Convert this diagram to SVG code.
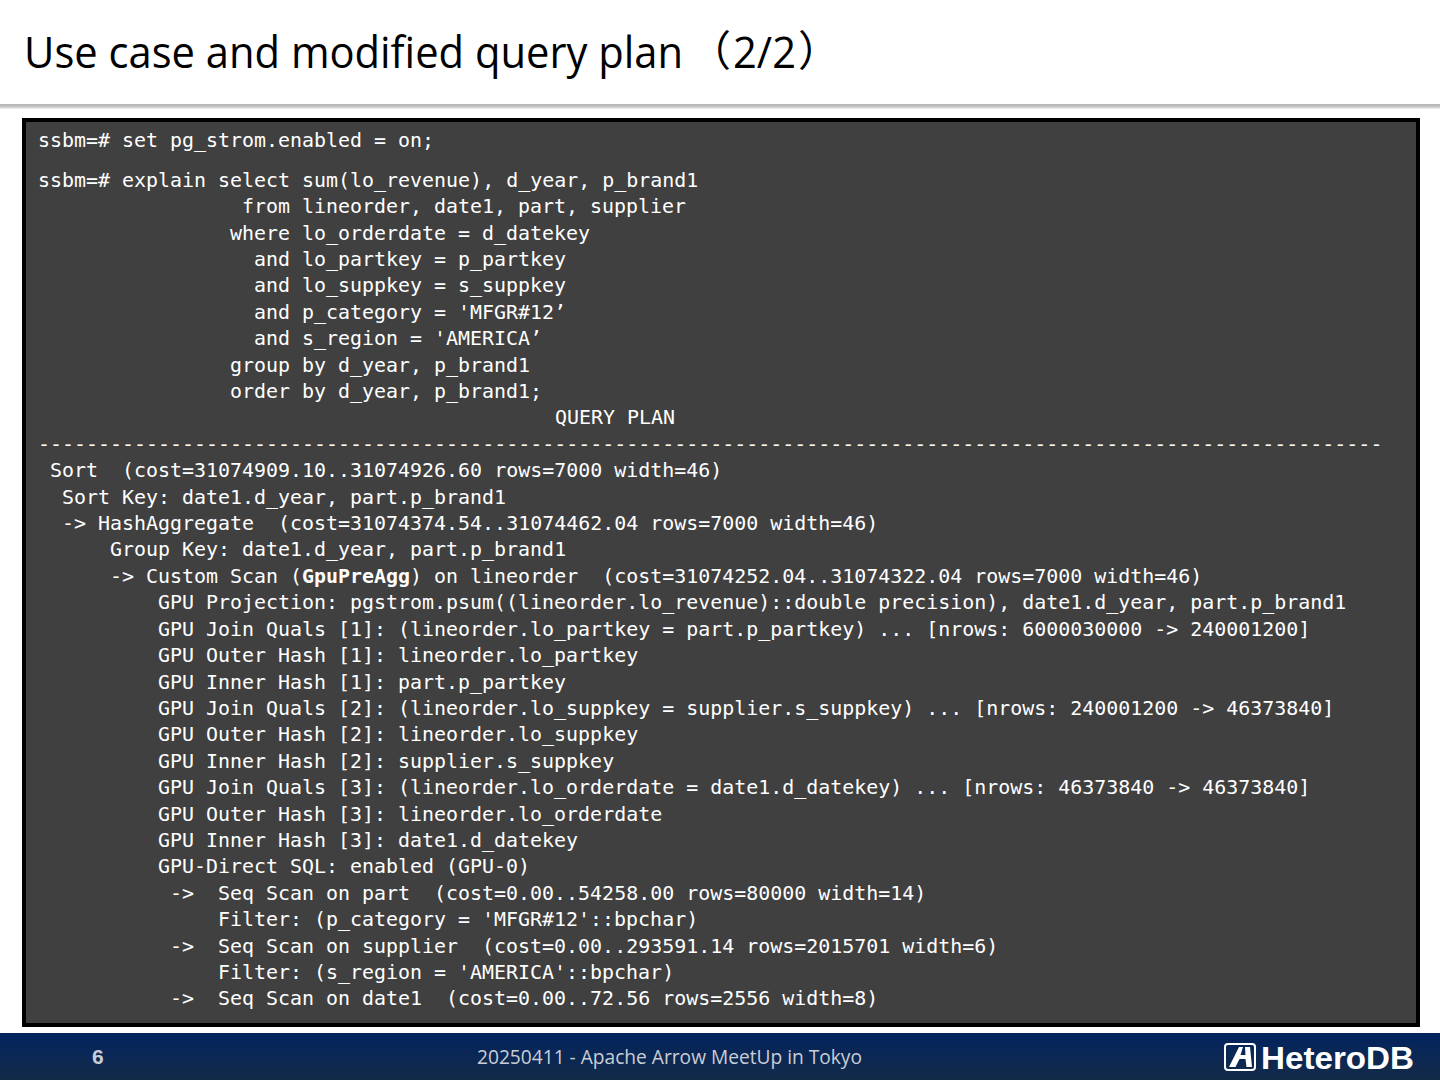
<svg xmlns="http://www.w3.org/2000/svg" width="1440" height="1080" viewBox="0 0 1440 1080">
<defs>
<linearGradient id="foot" x1="0" y1="0" x2="0" y2="1"><stop offset="0" stop-color="#02235f"/><stop offset="1" stop-color="#142b47"/></linearGradient>
<linearGradient id="rule" x1="0" y1="0" x2="0" y2="1"><stop offset="0" stop-color="#b4b4b4"/><stop offset="0.5" stop-color="#c4c4c4"/><stop offset="1" stop-color="#f4f4f4"/></linearGradient>
</defs>
<style>
text{white-space:pre}
.c{font-family:"DejaVu Sans Mono","Liberation Mono",monospace;font-size:19.96px;fill:#fff}
.t{font-family:"Open Sans","Noto Sans",sans-serif;font-size:44px;fill:#000}
.p{font-family:"Noto Sans CJK JP","Noto Sans",sans-serif;font-size:42px;fill:#000}
.f{font-family:"Open Sans","Noto Sans",sans-serif;font-size:20px;fill:#c8ced6}
</style>
<rect width="1440" height="1080" fill="#fff"/>
<rect id="header-rule" x="0" y="104" width="1440" height="5" fill="url(#rule)"/>
<text id="title" class="t" transform="translate(24 68) scale(0.948 1)">Use case and modified query plan</text>
<text class="p" x="689" y="66">（</text>
<text class="t" transform="translate(733 68) scale(0.948 1)">2/2</text>
<text class="p" x="798" y="66">）</text>
<g id="console">
<rect x="24" y="120" width="1394" height="905" fill="#404040" stroke="#000" stroke-width="4"/>
<text class="c" x="38" y="147">ssbm=# set pg_strom.enabled = on;</text>
<text class="c" x="38" y="187">ssbm=# explain select sum(lo_revenue), d_year, p_brand1</text>
<text class="c" x="242" y="213">from lineorder, date1, part, supplier</text>
<text class="c" x="230" y="240">where lo_orderdate = d_datekey</text>
<text class="c" x="254" y="266">and lo_partkey = p_partkey</text>
<text class="c" x="254" y="292">and lo_suppkey = s_suppkey</text>
<text class="c" x="254" y="319">and p_category = 'MFGR#12’</text>
<text class="c" x="254" y="345">and s_region = 'AMERICA’</text>
<text class="c" x="230" y="372">group by d_year, p_brand1</text>
<text class="c" x="230" y="398">order by d_year, p_brand1;</text>
<text class="c" x="555" y="424">QUERY PLAN</text>
<text class="c" x="38" y="451">----------------------------------------------------------------------------------------------------------------</text>
<text class="c" x="50" y="477">Sort  (cost=31074909.10..31074926.60 rows=7000 width=46)</text>
<text class="c" x="62" y="504">Sort Key: date1.d_year, part.p_brand1</text>
<text class="c" x="62" y="530">-> HashAggregate  (cost=31074374.54..31074462.04 rows=7000 width=46)</text>
<text class="c" x="110" y="556">Group Key: date1.d_year, part.p_brand1</text>
<text class="c" x="110" y="583">-> Custom Scan (<tspan font-weight="700">GpuPreAgg</tspan>) on lineorder  (cost=31074252.04..31074322.04 rows=7000 width=46)</text>
<text class="c" x="158" y="609">GPU Projection: pgstrom.psum((lineorder.lo_revenue)::double precision), date1.d_year, part.p_brand1</text>
<text class="c" x="158" y="636">GPU Join Quals [1]: (lineorder.lo_partkey = part.p_partkey) ... [nrows: 6000030000 -> 240001200]</text>
<text class="c" x="158" y="662">GPU Outer Hash [1]: lineorder.lo_partkey</text>
<text class="c" x="158" y="689">GPU Inner Hash [1]: part.p_partkey</text>
<text class="c" x="158" y="715">GPU Join Quals [2]: (lineorder.lo_suppkey = supplier.s_suppkey) ... [nrows: 240001200 -> 46373840]</text>
<text class="c" x="158" y="741">GPU Outer Hash [2]: lineorder.lo_suppkey</text>
<text class="c" x="158" y="768">GPU Inner Hash [2]: supplier.s_suppkey</text>
<text class="c" x="158" y="794">GPU Join Quals [3]: (lineorder.lo_orderdate = date1.d_datekey) ... [nrows: 46373840 -> 46373840]</text>
<text class="c" x="158" y="821">GPU Outer Hash [3]: lineorder.lo_orderdate</text>
<text class="c" x="158" y="847">GPU Inner Hash [3]: date1.d_datekey</text>
<text class="c" x="158" y="873">GPU-Direct SQL: enabled (GPU-0)</text>
<text class="c" x="170" y="900">->  Seq Scan on part  (cost=0.00..54258.00 rows=80000 width=14)</text>
<text class="c" x="218" y="926">Filter: (p_category = 'MFGR#12'::bpchar)</text>
<text class="c" x="170" y="953">->  Seq Scan on supplier  (cost=0.00..293591.14 rows=2015701 width=6)</text>
<text class="c" x="218" y="979">Filter: (s_region = 'AMERICA'::bpchar)</text>
<text class="c" x="170" y="1005">->  Seq Scan on date1  (cost=0.00..72.56 rows=2556 width=8)</text>
</g>
<g id="footer">
<rect x="0" y="1033" width="1440" height="47" fill="url(#foot)"/>
<text x="92" y="1064" font-family="Liberation Sans,sans-serif" font-weight="700" font-size="21" fill="#c8ced6">6</text>
<text class="f" x="477" y="1064" textLength="385" lengthAdjust="spacingAndGlyphs">20250411 - Apache Arrow MeetUp in Tokyo</text>
<g id="logo">
<rect x="1225" y="1044" width="30" height="26" rx="3" fill="none" stroke="#fff" stroke-width="2"/>
<path d="M1229 1067 L1239 1047 H1243 L1240.500 1055 H1245.500 L1245 1047 H1250 L1252 1067 H1246.500 L1245.500 1059 H1239.500 L1235.500 1067Z" fill="#fff"/>
<text x="1261" y="1069" font-family="Liberation Sans,sans-serif" font-weight="700" font-size="32" fill="#fff" textLength="153" lengthAdjust="spacingAndGlyphs">HeteroDB</text>
</g>
</g>
</svg>
